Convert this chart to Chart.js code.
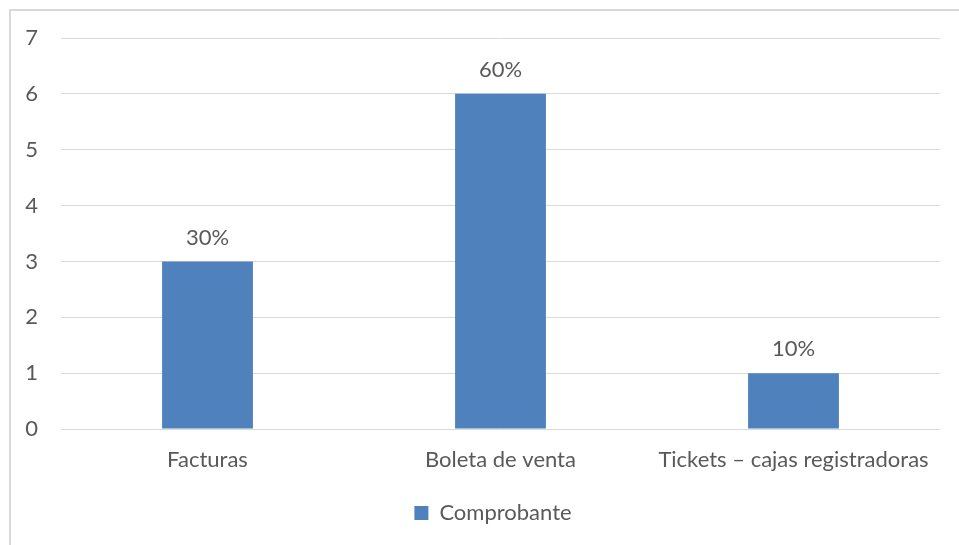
<!DOCTYPE html>
<html>
<head>
<meta charset="utf-8">
<script src="https://cdn.jsdelivr.net/npm/chart.js@4/dist/chart.umd.min.js"></script>
<style>
  html, body { margin: 0; padding: 0; background: #fff; }
  #grafico { display: block; }
</style>
</head>
<body>
<canvas id="grafico" width="959" height="545"></canvas>
<script>
    var categorias = ["Facturas", "Boleta de venta", "Tickets \u2013 cajas registradoras"];
    var valores = [3, 6, 1];
    var nombreSerie = "Comprobante";

    var total = valores.reduce(function (a, b) { return a + b; }, 0);
    var fuente = "Lato, 'Open Sans', sans-serif";
    var gris = '#595959';

    // marco del gráfico (solo se ven los bordes superior e izquierdo)
    var marco = {
        id: 'marco',
        beforeDraw: function (chart) {
            var ctx = chart.ctx;
            ctx.save();
            ctx.fillStyle = '#fff';
            ctx.fillRect(0, 0, chart.width, chart.height);
            ctx.strokeStyle = '#d9d9d9';
            ctx.lineWidth = 2;
            ctx.beginPath();
            ctx.moveTo(10, chart.height);
            ctx.lineTo(10, 10);
            ctx.lineTo(chart.width, 10);
            ctx.stroke();
            ctx.restore();
        }
    };

    // la leyenda va centrada en el marco completo, algo más a la derecha
    var moverLeyenda = {
        id: 'moverLeyenda',
        afterLayout: function (chart) {
            if (chart.legend) {
                chart.legend.left += 18;
                chart.legend.right += 18;
            }
        }
    };

    // porcentajes encima de cada barra
    var etiquetas = {
        id: 'etiquetas',
        afterDatasetsDraw: function (chart) {
            var ctx = chart.ctx;
            var meta = chart.getDatasetMeta(0);
            ctx.save();
            ctx.fillStyle = gris;
            ctx.font = '22px ' + fuente;
            ctx.textAlign = 'center';
            ctx.textBaseline = 'middle';
            meta.data.forEach(function (barra, i) {
                var pct = Math.round(valores[i] / total * 100) + '%';
                ctx.fillText(pct, barra.x, barra.y - 24);
            });
            ctx.restore();
        }
    };

    var grafico = new Chart(document.getElementById('grafico'), {
        type: 'bar',
        data: {
            labels: categorias,
            datasets: [{
                label: nombreSerie,
                data: valores,
                backgroundColor: '#4f81bd',
                borderWidth: 0,
                barPercentage: 1,
                categoryPercentage: 0.31
            }]
        },
        options: {
            responsive: false,
            animation: false,
            layout: {
                padding: { left: 10, right: 19, top: 38, bottom: 11 }
            },
            plugins: {
                legend: {
                    position: 'bottom',
                    labels: {
                        color: gris,
                        font: { size: 22, family: fuente },
                        boxWidth: 14,
                        boxHeight: 14,
                        padding: 10
                    }
                },
                tooltip: { enabled: false }
            },
            scales: {
                x: {
                    grid: { display: false },
                    border: { display: false },
                    ticks: {
                        color: gris,
                        font: { size: 22, family: fuente },
                        padding: 10,
                        maxRotation: 0
                    },
                    afterFit: function (scale) { scale.height = 63; }
                },
                y: {
                    min: 0,
                    max: 7,
                    grid: {
                        color: '#d9d9d9',
                        drawTicks: false
                    },
                    border: { display: false },
                    ticks: {
                        stepSize: 1,
                        color: gris,
                        font: { size: 22, family: fuente },
                        padding: 23
                    },
                    afterFit: function (scale) { scale.width = 51; }
                }
            }
        },
        plugins: [marco, moverLeyenda, etiquetas]
    });
</script>
</body>
</html>
